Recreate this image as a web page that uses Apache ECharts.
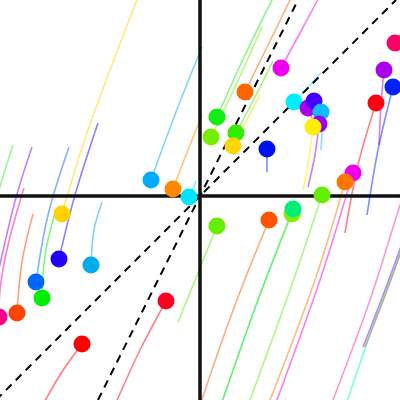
<!DOCTYPE html>
<html><head><meta charset="utf-8">
<script src="https://cdn.jsdelivr.net/npm/echarts@6/dist/echarts.min.js"></script>
<style>html,body{margin:0;padding:0;background:#fff}#c{width:400px;height:400px}</style>
</head><body><div id="c"></div>
<script>
// Axis ranges (relative strength on x, momentum on y)
const xRange = [-100, 100];
const yRange = [-102, 98];
// Reference diagonals (slopes through the origin)
const diagonalSlopes = [1, 2];

// Dot colours per series
const dotColors = [
  '#ffd200','#00aaff','#ff8800','#00e5ff','#33ee33','#8800ff','#ff0088','#ff4400',
  '#0066ff','#00ee00','#2200ff','#00aaee','#ff0000','#ff0022','#66ee00','#11ee11',
  '#77ee00','#33ee00','#ff6600','#ffd700','#0011ee','#ee00ee','#00eeff','#aa00ee',
  '#4400ff','#11bbff','#9900ee','#ffee00','#ff0066','#aa00ee','#0022ff','#ff0011',
  '#ee00ee','#ff7700','#66ee00','#ff5500','#88ee00','#00ee77','#ff3399','#8800ff',
  '#ff2200','#00ffaa'
];
// Tail x values (oldest -> latest; last point is the dot)
const tailX = [
  [-30,-56,-69],[1,-12,-24.5],[1,-6,-13.5],[-2,-3.5,-5.5],[-93.5,-99,-106],[-84,-93,-104.5],
  [-88,-96,-100,-100.5],[-83.5,-89,-91.5],[-65.5,-76,-82],[-72.5,-77.5,-79],[-51,-62.5,-70.5],
  [-49,-53,-54.5],[-80,-70,-59],[-42.5,-30,-17],[-11,0,8.5],[37.5,22.5,8.5],[31,18,5.5],
  [36.5,27.5,18],[46.5,34,22.5],[30,23.5,16.5],[33.5,33.5,33.5],[60.5,50,40.5],[60.5,54,47],
  [56,54],[59,57],[60.5,61,60.5],[54,57.5,59.5],[51.5,54.5,56.5],[105,97.5],[89.5,90.5,92],
  [83.5,89,96.5],[72.5,79,88],[37,60,76.5],[33.5,57.5,72.5],[23.5,45,61],[0,17.5,34.5],
  [10,29,46],[10,29,46.5],[66.5,85,100,105],[81.5,92.5,102.5,106],[82.5,93,102.5,106],
  [72.5,87.5,102.5,106]
];
// Tail y values
const tailY = [
  [102,33,-9],[74.5,42,8],[40.5,23,3.5],[7.5,3.5,-0.5],[25.5,8,-17],[24.5,-4.5,-55],
  [4,-24.5,-47,-60.5],[-9,-33,-58.5],[24.5,-9.5,-43],[-8.5,-29.5,-51],[36.5,0.5,-31.5],
  [-3,-17,-34.5],[-107,-89.5,-74],[-104.5,-77,-52.5],[-63,-36,-15],[101,70.5,39.5],[84.5,55.5,29.5],
  [67.5,49.5,31.5],[101,75.5,52],[50.5,38,25],[12,18,23.5],[101,81.5,64],[61.5,54.5,47],
  [39,44],[42,47.5],[23,33,42],[4.5,20.5,36],[3,19,34.5],[88,76.5],[25.5,45.5,63],
  [-9.5,23,54.5],[-18.5,15.5,46.5],[-106,-42,11.5],[-106,-42,7],[-106,-47,0.5],[-104.5,-54.5,-12],
  [-106,-52,-9],[-106,-52,-6.5],[-102,-52,-4.5,10.5],[-75.5,-47,-19.5,-8],[-75.5,-48.5,-22,-10],
  [-106,-62,-22,-10]
];

const series = [];
dotColors.forEach((c, i) => {
  const pts = tailX[i].map((x, k) => [x, tailY[i][k]]);
  series.push({
    type: 'line', data: pts, smooth: 0.35, symbol: 'none', silent: true, z: 2,
    lineStyle: { color: c, width: 1.6, opacity: 0.5 }
  });
});
const dotData = dotColors.map((c, i) => {
  const n = tailX[i].length - 1;
  return { value: [tailX[i][n], tailY[i][n]], itemStyle: { color: c } };
});
series.push({ type: 'scatter', data: dotData, symbolSize: 17, z: 5, clip: false, itemStyle: { opacity: 1 } });
diagonalSlopes.forEach(s => {
  series.push({
    type: 'line', symbol: 'none', silent: true, z: 3,
    data: [[yRange[0] / s, yRange[0]], [yRange[1] / s, yRange[1]]],
    lineStyle: { color: '#000', width: 2, type: [8, 6] }
  });
});

const chart = echarts.init(document.getElementById('c'));
chart.setOption({
  animation: false,
  grid: { left: 0, right: 0, top: 0, bottom: 0 },
  xAxis: { type: 'value', min: xRange[0], max: xRange[1], splitLine: { show: false },
    axisLabel: { show: false }, axisTick: { show: false },
    axisLine: { onZero: true, lineStyle: { color: '#111', width: 3.5 } }, z: 4 },
  yAxis: { type: 'value', min: yRange[0], max: yRange[1], splitLine: { show: false },
    axisLabel: { show: false }, axisTick: { show: false },
    axisLine: { onZero: true, lineStyle: { color: '#111', width: 3.5 } }, z: 4 },
  series: series
});
</script></body></html>
